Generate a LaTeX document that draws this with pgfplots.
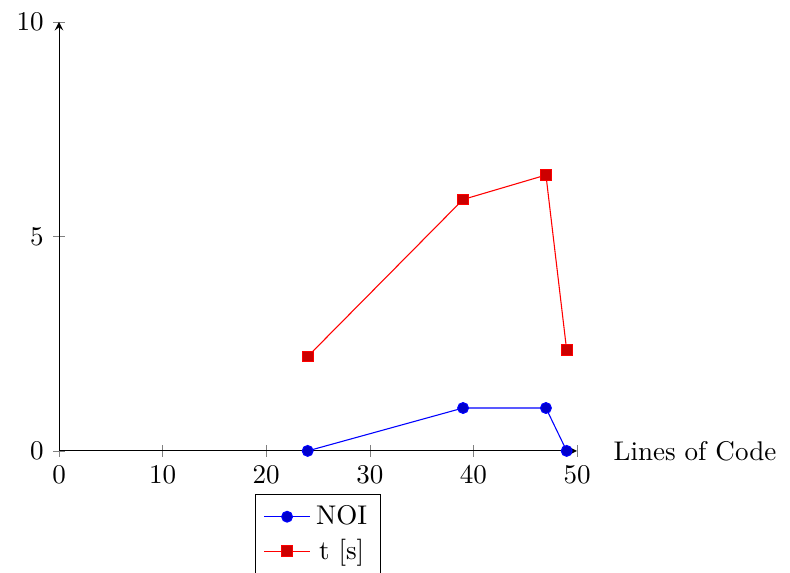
\documentclass[border=0pt]{standalone}
\usepackage{pgfplots}
\pgfplotsset{compat=1.18}
\begin{document}
\begin{tikzpicture}
\begin{axis}[
  scale only axis,
  width=191.6pt, height=158.7pt,
  axis lines=left,
  xmin=0, xmax=50, ymin=0, ymax=10,
  xtick={0,10,20,30,40,50},
  ytick={0,5,10},
  xlabel={Lines of Code},
  xlabel style={at={(axis description cs:1,0)}, anchor=west, xshift=10pt},
  legend style={at={(0.5,-0.1)}, anchor=north},
  clip=false,
]
\addplot coordinates {(24,0) (39,1) (47,1) (49,0)};
\addlegendentry{NOI}
\addplot coordinates {(24,2.2) (39,5.86) (47,6.43) (49,2.35)};
\addlegendentry{t [s]}
\coordinate (bl) at (axis cs:-5.7,-2.84);
\coordinate (tr) at (axis cs:70.56,10.51);
\end{axis}
\pgfresetboundingbox
\path (bl) rectangle (tr);
\end{tikzpicture}
\end{document}
